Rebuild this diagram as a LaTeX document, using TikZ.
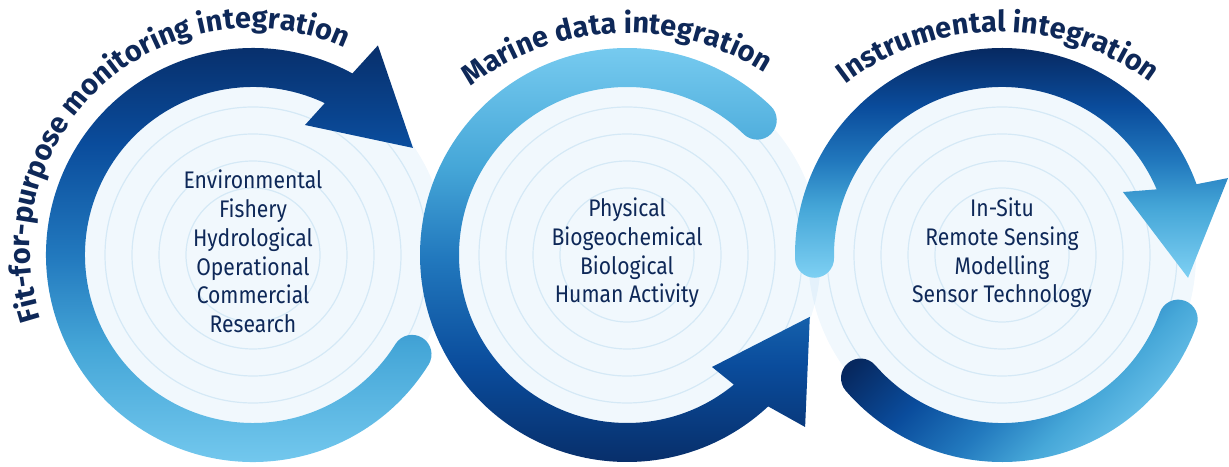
\documentclass[tikz,border=0pt]{standalone}
\usepackage{fontspec}
\usetikzlibrary{decorations.text}
\newfontfamily\listfont[FakeStretch=0.88]{Fira Sans}
\newfontfamily\titlefont{Fira Sans}
\definecolor{ringnavy}{HTML}{07285F}
\definecolor{ringblue}{HTML}{0A4C9C}
\definecolor{ringmid}{HTML}{2279BE}
\definecolor{ringsky}{HTML}{46A7D8}
\definecolor{ringlight}{HTML}{7ED0F3}
\definecolor{textnavy}{HTML}{0E2858}
\definecolor{discblue}{HTML}{379BE2}
\definecolor{faintblue}{HTML}{D5E9F6}
\pgfdeclareverticalshading{ringshade}{100bp}{color(0bp)=(ringlight); color(25bp)=(ringlight); color(40bp)=(ringsky); color(50bp)=(ringmid); color(62bp)=(ringblue); color(75bp)=(ringnavy); color(100bp)=(ringnavy)}

\begin{document}
\begin{tikzpicture}[x=1pt, y=1pt,
    paledisc/.style={fill=discblue, fill opacity=0.07},
    faintring/.style={draw=faintblue, line width=1.2pt},
    ringfill/.style={shading=ringshade},
    listtext/.style={align=center, text=textnavy, inner sep=0pt,
      font=\listfont\fontsize{24}{28.7}\selectfont},
    arctitle/.style={decorate, decoration={text along path, text align=center,
      text color=textnavy, text={|\titlefont\bfseries\fontsize{29}{29}\selectfont|#1}}}]
  \useasboundingbox (0,0) rectangle (1229,466);
  \coordinate (c1) at (253,211);
  \coordinate (c2) at (627,211);
  \coordinate (c3) at (1002,211);
  \coordinate (t1) at (252,216);
  \coordinate (t2) at (628,176);
  \coordinate (t3) at (999,182);

  \foreach \c in {c1,c2,c3}
    \fill[paledisc] (\c) circle[radius=194];
  \foreach \c in {c1,c2,c3}
    \foreach \r in {67,94,121,148,175}
      \draw[faintring] (\c) circle[radius=\r];

  \begin{scope}[shift={(c1)}]
    \shade[ringfill] (-32:207) arc[start angle=-32, end angle=-298.7, radius=207]
      -- (59.2:244) -- (33.8:192.5) -- (68.2:140) -- (64.7:168)
      arc[start angle=64.7, end angle=328, radius=168]
      arc[start angle=148, end angle=-32, radius=19.5] -- cycle;
  \end{scope}
  \begin{scope}[shift={(c2)}]
    \shade[ringfill, shading angle=180] (46:168) arc[start angle=46, end angle=309.5, radius=168]
      -- (-52.8:140.6) -- (-18.7:193) -- (-44:247.6) -- (313:207)
      arc[start angle=313, end angle=46, radius=207]
      arc[start angle=46, end angle=-134, radius=19.5] -- cycle;
  \end{scope}
  \begin{scope}[shift={(c3)}]
    \shade[ringfill] (181:207) arc[start angle=181, end angle=20, radius=207]
      -- (18.8:238.8) -- (-7:187.4) -- (27.5:136.4) -- (23:168)
      arc[start angle=23, end angle=181, radius=168]
      arc[start angle=1, end angle=-179, radius=19.5] -- cycle;
    \shade[ringfill, shading angle=45] (221:207) arc[start angle=221, end angle=340, radius=207]
      arc[start angle=340, end angle=520, radius=19.5]
      arc[start angle=340, end angle=221, radius=168]
      arc[start angle=41, end angle=221, radius=19.5] -- cycle;
  \end{scope}

  \node[listtext, yshift=3.5] (fitlist) at (c1)
    {Environmental\\Fishery\\Hydrological\\Operational\\Commercial\\Research};
  \node[listtext, yshift=2] (marinelist) at (c2)
    {Physical\\Biogeochemical\\Biological\\Human Activity};
  \node[listtext, yshift=2] (instrlist) at (c3)
    {In-Situ\\Remote Sensing\\Modelling\\Sensor Technology};

  \path[arctitle={Fit-for-purpose monitoring integration}]
    (t1) ++(197.5:222) arc[start angle=197.5, end angle=65.9, radius=222];
  \path[arctitle={Marine data integration}]
    (t2) ++(127.4:257) arc[start angle=127.4, end angle=58.2, radius=257];
  \path[arctitle={Instrumental integration}]
    (t3) ++(126.8:252) arc[start angle=126.8, end angle=53.8, radius=252];
\end{tikzpicture}
\end{document}
